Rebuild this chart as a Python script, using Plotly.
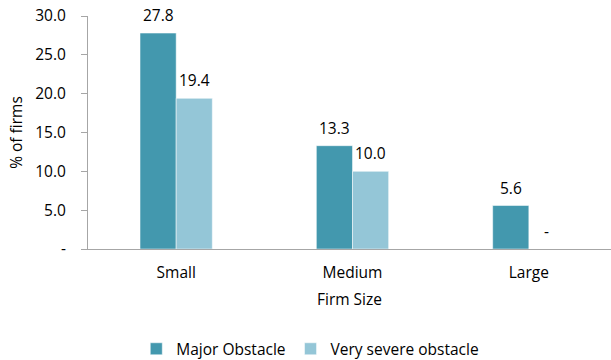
import plotly.graph_objects as go

# Share of firms reporting the obstacle, by firm size
categories = ["Small", "Medium", "Large"]
major_obstacle = [27.8, 13.3, 5.6]
very_severe_obstacle = [19.4, 10.0, 0.0]

y_tick_values = [0, 5, 10, 15, 20, 25, 30]
y_tick_labels = ["-", "5.0", "10.0", "15.0", "20.0", "25.0", "30.0"]

DARK = "#4398AE"
LIGHT = "#94C6D7"
FONT = "Open Sans"
SIZE = 15.5
BAR_GAP = 0.59
HALF_BAR = (1 - BAR_GAP) / 4  # centre offset of each bar within its group

fig = go.Figure()
fig.add_trace(go.Bar(name="Major Obstacle", x=categories, y=major_obstacle,
                     marker=dict(color=DARK, line=dict(color="white", width=0.5)),
                     offsetgroup="a"))
fig.add_trace(go.Bar(name="Very severe obstacle", x=categories, y=very_severe_obstacle,
                     marker=dict(color=LIGHT, line=dict(color="white", width=0.5)),
                     offsetgroup="b"))

# Value labels above each bar; a zero value is shown as a dash
def label(v):
    return f"{v:.1f}" if v > 0 else "-"

for i, cat in enumerate(categories):
    for vals, shift in ((major_obstacle, -HALF_BAR), (very_severe_obstacle, HALF_BAR)):
        fig.add_annotation(x=i + shift, y=vals[i], xref="x", yref="y",
                           text=label(vals[i]), showarrow=False,
                           yshift=18, font=dict(size=SIZE, color="#000000", family=FONT))

fig.update_layout(
    width=611, height=360,
    margin=dict(l=88, r=0, t=16, b=111),
    paper_bgcolor="white", plot_bgcolor="white",
    barmode="group", bargap=BAR_GAP, bargroupgap=0,
    font=dict(family=FONT, size=SIZE, color="#000000"),
    showlegend=True,
    legend=dict(orientation="h", xref="paper", yref="container",
                x=0.425, xanchor="center", y=0.03, yanchor="middle",
                font=dict(size=SIZE, family=FONT), itemwidth=30,
                traceorder="normal"),
)
fig.update_xaxes(
    type="category", range=[-0.5, 2.466],
    showline=True, linecolor="#A6A6A6", linewidth=1,
    ticks="", tickfont=dict(size=SIZE, family=FONT), ticklabelstandoff=9,
    title=dict(text="Firm Size", font=dict(size=SIZE, family=FONT), standoff=12),
    showgrid=False,
)
fig.update_yaxes(
    range=[0, 30], tickvals=y_tick_values, ticktext=y_tick_labels,
    showline=True, linecolor="#A6A6A6", linewidth=1,
    ticks="outside", ticklen=6, tickcolor="#A6A6A6",
    tickfont=dict(size=SIZE, family=FONT), ticklabelstandoff=12,
    title=dict(text="% of firms", font=dict(size=SIZE, family=FONT), standoff=8),
    showgrid=False, zeroline=False,
)

fig.write_html("out.html")
